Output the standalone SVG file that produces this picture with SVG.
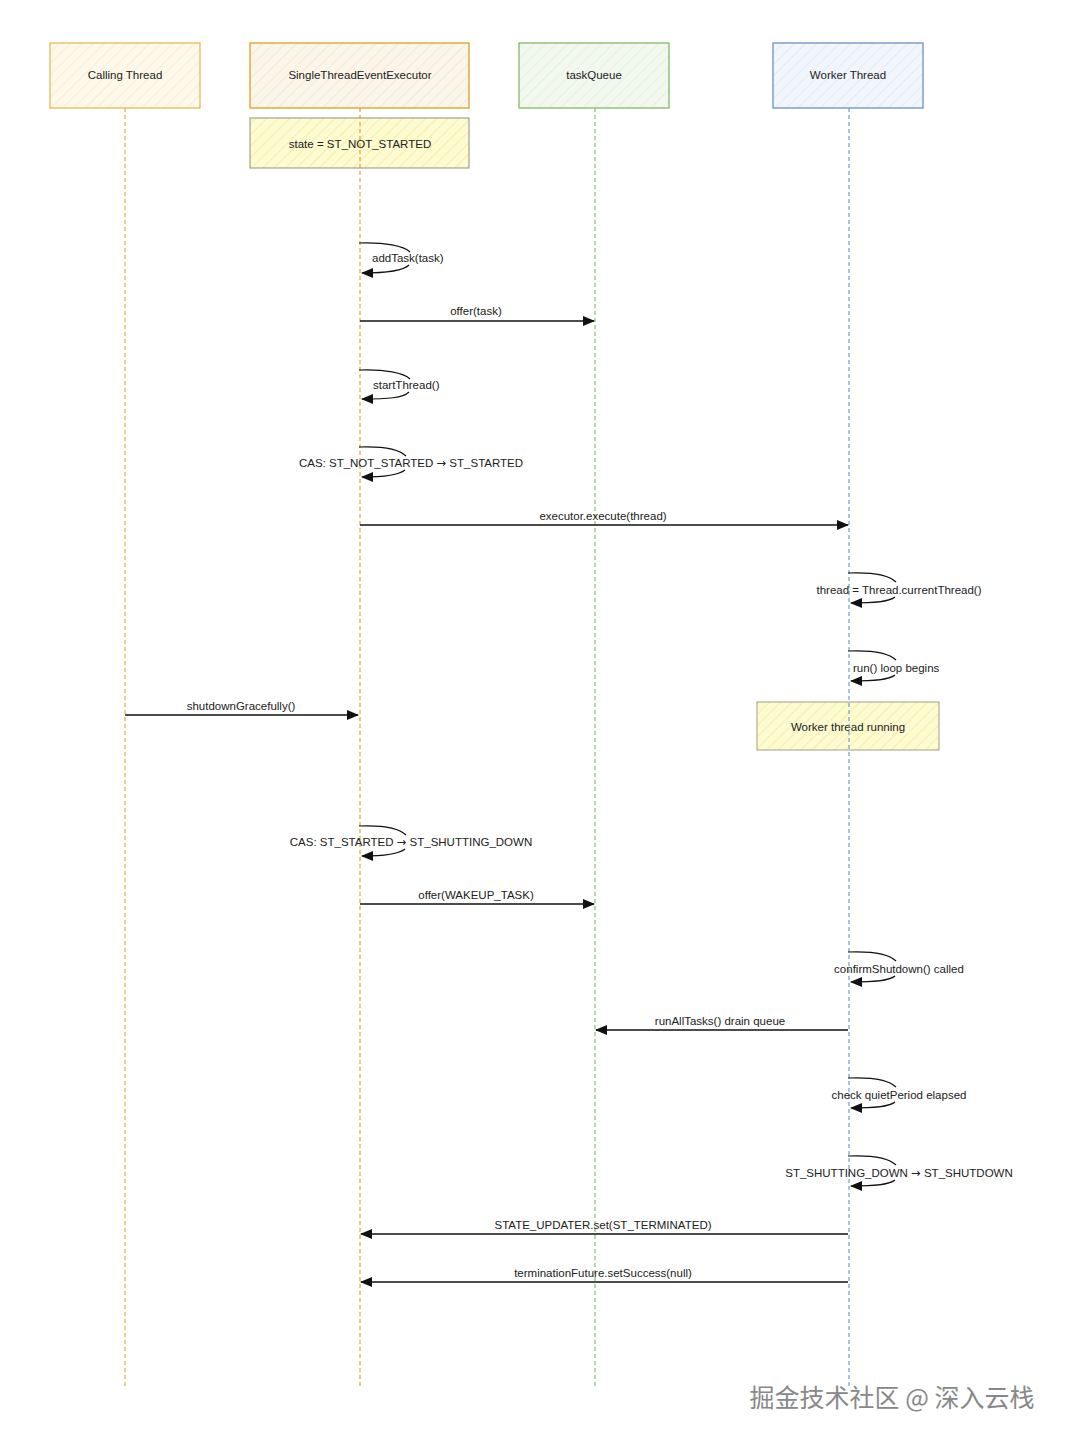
<svg xmlns="http://www.w3.org/2000/svg" width="1069" height="1445" viewBox="0 0 1069 1445">
<defs>
<style>
.t{font-family:"Liberation Sans",Arial,sans-serif;font-size:11.5px;fill:#222;}
.tm{text-anchor:middle;}
.ar{font-family:"DejaVu Sans",sans-serif;}
.msg{stroke:#111;stroke-width:1.3;fill:none;}
.loop{stroke:#111;stroke-width:1.2;fill:none;}
.ll{stroke-width:1.2;stroke-dasharray:4 3;fill:none;}
</style>
<pattern id="hY" width="8" height="8" patternUnits="userSpaceOnUse" patternTransform="rotate(45)"><rect width="8" height="8" fill="#fdf8ea"/><line x1="0" y1="0" x2="0" y2="8" stroke="#f0e6c4" stroke-width="1"/></pattern>
<pattern id="hO" width="8" height="8" patternUnits="userSpaceOnUse" patternTransform="rotate(45)"><rect width="8" height="8" fill="#fcf5ea"/><line x1="0" y1="0" x2="0" y2="8" stroke="#eee0c8" stroke-width="1"/></pattern>
<pattern id="hG" width="8" height="8" patternUnits="userSpaceOnUse" patternTransform="rotate(45)"><rect width="8" height="8" fill="#f2f8ee"/><line x1="0" y1="0" x2="0" y2="8" stroke="#dcead2" stroke-width="1"/></pattern>
<pattern id="hB" width="8" height="8" patternUnits="userSpaceOnUse" patternTransform="rotate(45)"><rect width="8" height="8" fill="#f1f5fc"/><line x1="0" y1="0" x2="0" y2="8" stroke="#d8e2f2" stroke-width="1"/></pattern>
<pattern id="hN" width="8" height="8" patternUnits="userSpaceOnUse" patternTransform="rotate(45)"><rect width="8" height="8" fill="#fdfbd2"/><line x1="0" y1="0" x2="0" y2="8" stroke="#f3ec96" stroke-width="1.5"/></pattern>
<marker id="ah" markerWidth="12" markerHeight="10" refX="11" refY="5" orient="auto" markerUnits="userSpaceOnUse"><path d="M0,0 L12,5 L0,10 z" fill="#111"/></marker>
</defs>
<rect width="1069" height="1445" fill="#ffffff"/>

<g id="node-calling">
<rect x="50" y="43" width="150" height="65" fill="url(#hY)" stroke="#e6bb55" stroke-width="1.3"/>
<text class="t tm" x="125" y="79">Calling Thread</text>
</g>
<g id="node-executor">
<rect x="250" y="43" width="219" height="65" fill="url(#hO)" stroke="#e0a630" stroke-width="1.4"/>
<text class="t tm" x="360" y="79">SingleThreadEventExecutor</text>
</g>
<g id="node-state">
<rect x="250" y="118" width="219" height="50" fill="url(#hN)" stroke="#9a9a88" stroke-width="1.1"/>
<text class="t tm" x="360" y="148">state = ST_NOT_STARTED</text>
</g>
<g id="node-taskqueue">
<rect x="519" y="43" width="150" height="65" fill="url(#hG)" stroke="#86b86a" stroke-width="1.3"/>
<text class="t tm" x="594" y="79">taskQueue</text>
</g>
<g id="node-worker">
<rect x="773" y="43" width="150" height="65" fill="url(#hB)" stroke="#6f8fc2" stroke-width="1.3"/>
<text class="t tm" x="848" y="79">Worker Thread</text>
</g>
<g id="node-note">
<rect x="757" y="702" width="182" height="48" fill="url(#hN)" stroke="#a8a890" stroke-width="1.1"/>
<text class="t tm" x="848" y="731">Worker thread running</text>
</g>

<g id="lifelines">
<line class="ll" x1="125" y1="108" x2="125" y2="1388" stroke="#e2ad45"/>
<line class="ll" x1="360" y1="108" x2="360" y2="1388" stroke="#e2a52a" stroke-width="1.6"/>
<line class="ll" x1="595" y1="108" x2="595" y2="1388" stroke="#8dbb6e"/>
<line class="ll" x1="849" y1="108" x2="849" y2="1388" stroke="#7a98c8" stroke-width="1.5"/>
</g>

<g id="connectors">
<path class="loop" d="M359,243 C385,242 404,246 410,252"/>
<path class="loop" d="M409,265 C403,271 388,273 362,273" marker-end="url(#ah)"/>
<path class="msg" d="M360,321 L594,321" marker-end="url(#ah)"/>
<path class="loop" d="M359,370 C385,369 404,373 410,379"/>
<path class="loop" d="M409,392 C403,398 388,399 362,399" marker-end="url(#ah)"/>
<path class="loop" d="M359,447 C385,446 400,450 406,456"/>
<path class="loop" d="M405,470 C399,475 385,477 362,477" marker-end="url(#ah)"/>
<path class="msg" d="M360,525 L848,525" marker-end="url(#ah)"/>
<path class="loop" d="M848,573 C874,572 890,576 896,582"/>
<path class="loop" d="M895,597 C889,602 874,603 851,603" marker-end="url(#ah)"/>
<path class="loop" d="M848,651 C874,650 890,654 896,660"/>
<path class="loop" d="M895,675 C889,680 874,681 851,681" marker-end="url(#ah)"/>
<path class="msg" d="M125,715 L358,715" marker-end="url(#ah)"/>
<path class="loop" d="M359,826 C385,825 400,829 406,835"/>
<path class="loop" d="M405,849 C399,854 385,856 362,856" marker-end="url(#ah)"/>
<path class="msg" d="M360,904 L594,904" marker-end="url(#ah)"/>
<path class="loop" d="M848,952 C874,951 890,955 896,961"/>
<path class="loop" d="M895,976 C889,981 874,982 851,982" marker-end="url(#ah)"/>
<path class="msg" d="M848,1030 L596,1030" marker-end="url(#ah)"/>
<path class="loop" d="M848,1078 C874,1077 890,1081 896,1087"/>
<path class="loop" d="M895,1102 C889,1107 874,1108 851,1108" marker-end="url(#ah)"/>
<path class="loop" d="M848,1156 C874,1155 890,1159 896,1165"/>
<path class="loop" d="M895,1180 C889,1185 874,1186 851,1186" marker-end="url(#ah)"/>
<path class="msg" d="M848,1234 L361,1234" marker-end="url(#ah)"/>
<path class="msg" d="M848,1282 L361,1282" marker-end="url(#ah)"/>
</g>

<g id="labels">
<text class="t" x="372" y="262">addTask(task)</text>
<text class="t tm" x="476" y="315">offer(task)</text>
<text class="t" x="373" y="389">startThread()</text>
<text class="t tm" x="411" y="467">CAS: ST_NOT_STARTED <tspan class="ar">→</tspan> ST_STARTED</text>
<text class="t tm" x="603" y="520">executor.execute(thread)</text>
<text class="t tm" x="899" y="594">thread = Thread.currentThread()</text>
<text class="t" x="853" y="672">run() loop begins</text>
<text class="t tm" x="241" y="710">shutdownGracefully()</text>
<text class="t tm" x="411" y="846">CAS: ST_STARTED <tspan class="ar">→</tspan> ST_SHUTTING_DOWN</text>
<text class="t tm" x="476" y="899">offer(WAKEUP_TASK)</text>
<text class="t tm" x="899" y="973">confirmShutdown() called</text>
<text class="t tm" x="720" y="1025">runAllTasks() drain queue</text>
<text class="t tm" x="899" y="1099">check quietPeriod elapsed</text>
<text class="t tm" x="899" y="1177">ST_SHUTTING_DOWN <tspan class="ar">→</tspan> ST_SHUTDOWN</text>
<text class="t tm" x="603" y="1229">STATE_UPDATER.set(ST_TERMINATED)</text>
<text class="t tm" x="603" y="1277">terminationFuture.setSuccess(null)</text>
</g>

<g id="watermark">
<text x="892" y="1407" font-family="'Noto Sans CJK SC',sans-serif" font-size="25" text-anchor="middle" fill="#ffffff" stroke="#ffffff" stroke-width="2">掘金技术社区 @ 深入云栈</text>
<text x="892" y="1407" font-family="'Noto Sans CJK SC',sans-serif" font-size="25" text-anchor="middle" fill="#888888">掘金技术社区 @ 深入云栈</text>
</g>
</svg>
